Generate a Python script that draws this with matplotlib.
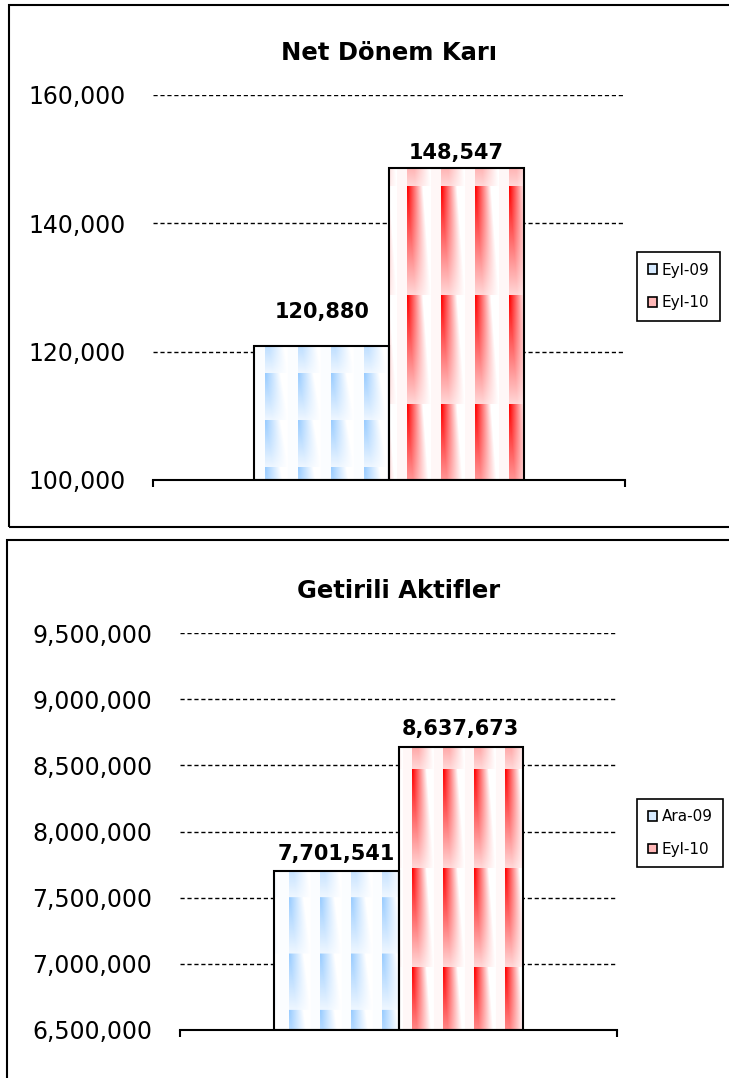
import numpy as np
import matplotlib
matplotlib.use("Agg")
import matplotlib.pyplot as plt
from matplotlib.patches import Rectangle, Patch
from matplotlib.ticker import FuncFormatter

# data
titles = ["Net Dönem Karı", "Getirili Aktifler"]
series_names = [["Eyl-09", "Eyl-10"], ["Ara-09", "Eyl-10"]]
values = [[120880, 148547], [7701541, 8637673]]
y_ticks = [[100000, 120000, 140000, 160000],
           [6500000, 7000000, 7500000, 8000000, 8500000, 9000000, 9500000]]

BLUE = np.array([153, 204, 255]) / 255.0
RED = np.array([255, 0, 0]) / 255.0


def texture(w, h, pw, ph, ox, oy, base):
    # excel-like tiled gradient, pixel sizes
    xx, yy = np.meshgrid(np.arange(w), np.arange(h))
    u = ((xx - ox) % pw) / pw
    t = ((yy - oy) % ph) / ph
    s = np.clip(u / 0.68, 0, 1)
    v = np.clip(1 - (s - 0.35 * t) * 1.5, 0, 1) * (1 - 0.85 * t)
    v = np.where(u > 0.68, 0.03, v)
    img = 1 - v[..., None] * (1 - base[None, None, :])
    return img


fig = plt.figure(figsize=(7.29, 10.78), dpi=100)
W, H = 729, 1078

# panel frames
fig.add_artist(Rectangle((9 / W, 1 - 527 / H), 1.2, (527 - 5) / H, transform=fig.transFigure,
                         fill=False, edgecolor="black", lw=1.5))
fig.add_artist(Rectangle((7 / W, -0.1), 1.2, 0.1 + 1 - 540 / H, transform=fig.transFigure,
                         fill=False, edgecolor="black", lw=1.5))

# axes rects in px: left, right, bottom(y), top(y)
rects = [(153, 625, 480, 95), (180, 617, 1030, 633)]
label_off = [[17, 4], [5, 5.5]]
# texture: (tile w, tile h, x offset, y offset) per bar, px
tex = [[(33, 47, 11, 27), (34, 109, 18, 18)],
       [(31, 56, 15, 27), (31, 99, 13, 22)]]
legend_y = [286.5, 833]

for k in range(2):
    l, r, b, t = rects[k]
    ymin = y_ticks[k][0]
    ax = fig.add_axes([l / W, 1 - b / H, (r - l) / W, (b - t) / H])
    ax.set_xlim(-0.5, 0.5)
    ax.set_ylim(ymin, y_ticks[k][-1])
    ax.set_yticks(y_ticks[k])
    ax.yaxis.set_major_formatter(FuncFormatter(lambda v, p: "{:,.0f}".format(v)))
    ax.tick_params(axis="y", length=0, pad=20, labelsize=17)
    ax.set_xticks([-0.5, 0.5])
    ax.set_xticklabels([])
    ax.tick_params(axis="x", direction="out", length=5, width=1.5)
    for sp in ["left", "right", "top"]:
        ax.spines[sp].set_visible(False)
    ax.spines["bottom"].set_linewidth(1.5)
    ax.set_axisbelow(True)
    ax.yaxis.grid(True, color="black", linestyle=(0, (3, 2)), lw=1)
    ax.patch.set_alpha(0)

    width = 0.285
    xs = [-width / 2, width / 2]
    heights = [v - ymin for v in values[k]]
    bars = ax.bar(xs, heights, width=width, bottom=ymin, facecolor="none",
                  edgecolor="black", lw=1.5, zorder=3)
    for i, bar in enumerate(bars):
        bb = bar.get_window_extent()
        wpx = max(int(round(bb.width)), 2)
        hpx = max(int(round(bb.height)), 2)
        pw, ph, ox, oy = tex[k][i]
        img = texture(wpx, hpx, pw, ph, ox, oy, BLUE if i == 0 else RED)
        x0 = bar.get_x()
        im = ax.imshow(img, extent=[x0, x0 + bar.get_width(), ymin, values[k][i]],
                       aspect="auto", origin="upper", zorder=2, interpolation="bilinear")
        im.set_clip_path(bar)
        ax.annotate("{:,}".format(values[k][i]), (bar.get_x() + bar.get_width() / 2, values[k][i]),
                    xytext=(0, label_off[k][i]), textcoords="offset points",
                    ha="center", va="bottom", fontsize=15, fontweight="bold")

    ax.set_ylim(ymin, y_ticks[k][-1])
    ax.set_xlim(-0.5, 0.5)
    ax.text(0.5, 1 + 42 / (b - t), titles[k], transform=ax.transAxes, ha="center", va="center",
            fontsize=17.5, fontweight="bold")

    handles = [Patch(facecolor="#d6eaff", edgecolor="black", lw=1.2),
               Patch(facecolor="#ffb8b8", edgecolor="black", lw=1.2)]
    leg = fig.legend(handles, series_names[k], loc="center left",
                     bbox_to_anchor=(637 / W, 1 - legend_y[k] / H), fontsize=11,
                     frameon=True, fancybox=False, edgecolor="black", framealpha=1,
                     handlelength=0.6, handleheight=0.6, handletextpad=0.3,
                     labelspacing=1.15, borderpad=0.7, borderaxespad=0)
    leg.get_frame().set_linewidth(1.2)

fig.savefig("out.png", dpi=100)
